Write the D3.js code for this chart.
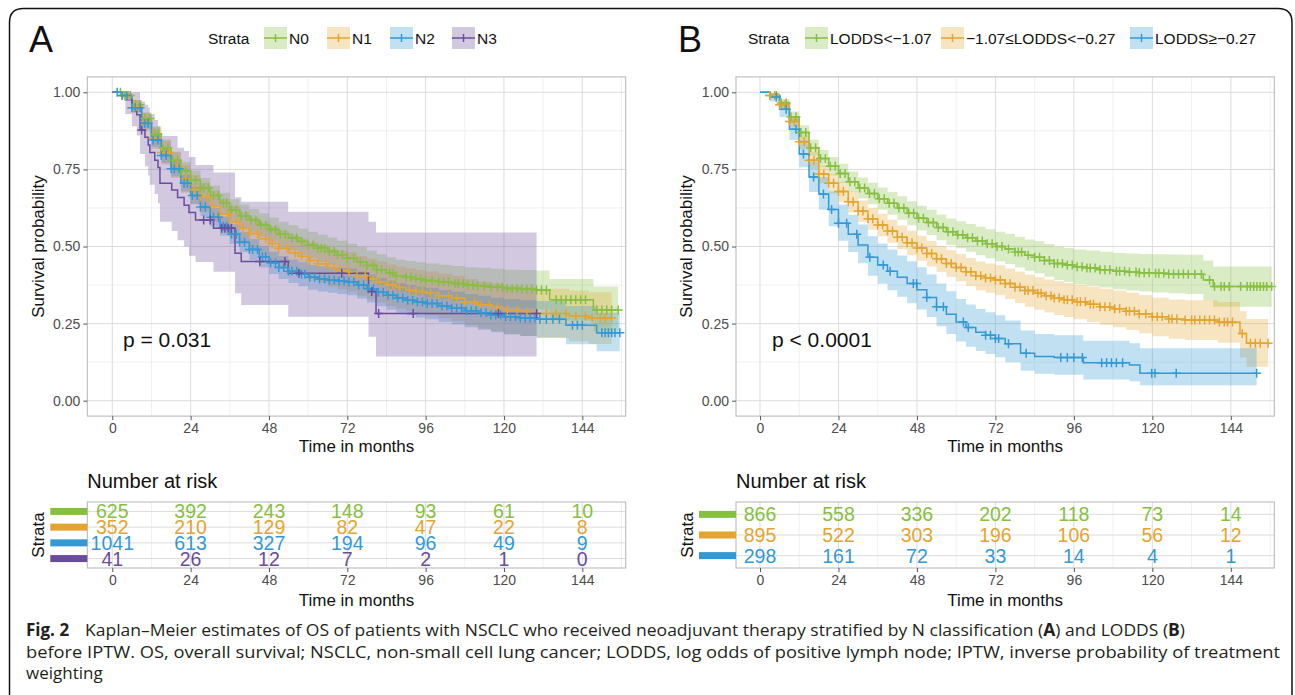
<!DOCTYPE html>
<html><head><meta charset="utf-8">
<script src="https://cdn.jsdelivr.net/npm/d3@7"></script>
<style>body{margin:0;background:#fff}svg text{font-family:"Liberation Sans",Arial,sans-serif}</style>
</head><body>
<svg id="c" width="1295" height="695"></svg>
<script>
// ---------------- DATA ----------------
const xTickVals = [0, 24, 48, 72, 96, 120, 144];
const yTickVals = [0, 0.25, 0.5, 0.75, 1];
const riskTimes = [0, 24, 48, 72, 96, 120, 144];

// Panel A: N classification
const aNames = ["N0", "N1", "N2", "N3"];
const aColors = ["#86BF41", "#E3A530", "#3399D4", "#6A4C9C"];
const aPval = "p = 0.031";

const n0Time = [0,3,6,9,12,15,18,21,24,27,30,33,36,39,42,45,48,51,54,57,60,63,66,69,72,75,78,81,84,87,90,93,96,100,104,108,112,116,120,125,130,134,147.4,155];
const n0Surv = [1,0.99,0.96,0.915,0.865,0.82,0.78,0.745,0.715,0.69,0.665,0.64,0.618,0.6,0.585,0.57,0.555,0.54,0.528,0.516,0.505,0.494,0.484,0.473,0.462,0.45,0.438,0.425,0.414,0.405,0.4,0.395,0.39,0.385,0.38,0.375,0.372,0.368,0.364,0.362,0.359,0.327,0.294,0.294];
const n0Lo = [1,0.982,0.945,0.895,0.84,0.793,0.752,0.715,0.684,0.658,0.632,0.606,0.583,0.564,0.548,0.532,0.516,0.5,0.487,0.474,0.462,0.45,0.439,0.427,0.415,0.402,0.389,0.375,0.363,0.353,0.347,0.341,0.335,0.329,0.323,0.317,0.313,0.308,0.303,0.3,0.296,0.26,0.225,0.225];
const n0Hi = [1,0.998,0.975,0.935,0.89,0.847,0.808,0.775,0.746,0.722,0.698,0.674,0.653,0.636,0.622,0.608,0.594,0.58,0.569,0.558,0.548,0.538,0.529,0.519,0.509,0.498,0.487,0.475,0.465,0.457,0.453,0.449,0.445,0.441,0.437,0.433,0.431,0.428,0.425,0.424,0.422,0.395,0.37,0.37];
const n0Cens = [2.5,4,5.5,7,8.5,10,11.5,13,14,15.5,17,18.5,20,21,22.5,24,25.5,27,28,29.5,31,32.5,34,35,36.5,38,39.5,41,42.5,44,45.5,47,48.5,50,51.5,53,55,56.5,58,60,61.5,63,64,65,66.5,68,69,70.5,72,74,76,78,80,81,82.5,85,86,87,90,91.5,93,94.5,96,98,100,101.5,103,105,106,107.5,109,110.5,112,114,116,118,119.5,121,122.5,124,125.5,127,128.5,130,131.5,133,136,137.5,139,140.5,142,143.5,145,148.5,150,151.5,153,155];

const n1Time = [0,3,6,9,12,15,18,21,24,27,30,33,36,39,42,45,48,51,54,57,60,63,66,69,72,75,78,81,84,87,90,93,96,100,104,108,112,116,120,125,130,140,146,153];
const n1Surv = [1,0.99,0.955,0.905,0.852,0.805,0.765,0.72,0.685,0.66,0.632,0.605,0.58,0.56,0.542,0.525,0.51,0.494,0.48,0.468,0.455,0.444,0.432,0.424,0.418,0.405,0.395,0.385,0.375,0.367,0.36,0.354,0.348,0.34,0.332,0.32,0.31,0.302,0.294,0.289,0.283,0.275,0.268,0.268];
const n1Lo = [1,0.98,0.933,0.875,0.816,0.765,0.722,0.674,0.637,0.611,0.582,0.554,0.528,0.507,0.488,0.47,0.454,0.437,0.422,0.409,0.395,0.383,0.37,0.361,0.354,0.34,0.329,0.318,0.307,0.298,0.29,0.283,0.276,0.267,0.258,0.245,0.234,0.225,0.216,0.21,0.203,0.193,0.184,0.184];
const n1Hi = [1,0.998,0.975,0.933,0.886,0.843,0.806,0.764,0.731,0.707,0.681,0.655,0.631,0.612,0.595,0.579,0.565,0.55,0.537,0.526,0.514,0.504,0.493,0.486,0.481,0.469,0.46,0.451,0.442,0.435,0.429,0.424,0.419,0.412,0.405,0.395,0.386,0.379,0.372,0.368,0.363,0.357,0.352,0.352];
const n1Cens = [3,5,7.5,10,12.5,15,17.5,20,22.5,25,27,29,31,33,35.5,38,40,42,44.5,47,49,51,53.5,56,58,60.5,63,65.5,68,70,72.5,75,77.5,80,82,84.5,86,88,91,93,95,97.5,100,103,105.5,108,111,113,115.5,118,121,124,127,130,133,136,139,142,145,147,149.5,151,153];

const n2Time = [0,3,6,9,12,15,18,21,24,27,30,33,36,39,42,45,48,51,54,57,60,63,66,69,72,75,78,81,84,87,90,93,96,100,104,108,112,116,120,125,130,139,148.4,155.5];
const n2Surv = [1,0.99,0.95,0.9,0.845,0.795,0.752,0.705,0.665,0.628,0.595,0.566,0.54,0.514,0.49,0.467,0.447,0.432,0.42,0.41,0.4,0.395,0.391,0.388,0.385,0.375,0.363,0.352,0.342,0.333,0.326,0.32,0.315,0.307,0.3,0.292,0.285,0.278,0.272,0.268,0.264,0.245,0.22,0.22];
const n2Lo = [1,0.984,0.936,0.882,0.823,0.771,0.727,0.678,0.637,0.599,0.565,0.535,0.508,0.481,0.456,0.432,0.411,0.395,0.382,0.371,0.36,0.354,0.35,0.346,0.342,0.331,0.318,0.306,0.295,0.285,0.277,0.27,0.264,0.255,0.247,0.238,0.23,0.222,0.215,0.21,0.205,0.183,0.16,0.16];
const n2Hi = [1,0.996,0.963,0.918,0.867,0.819,0.777,0.732,0.693,0.657,0.625,0.597,0.572,0.547,0.524,0.502,0.483,0.469,0.458,0.449,0.44,0.436,0.432,0.43,0.428,0.419,0.408,0.398,0.389,0.381,0.375,0.37,0.366,0.359,0.353,0.346,0.34,0.334,0.329,0.326,0.323,0.307,0.285,0.285];
const n2Cens = [1.5,3,4.5,6,7,8.5,10,11,12.5,14,15,16.5,18,19,20.5,22,23,24.5,26,27,28.5,30,31,32.5,34,35,36.5,38,39,40.5,42,43,44.5,46,47,48.5,50,51,52.5,54,55,56.5,58,59,60.5,62,63.5,65,66.5,68,69.5,71,72.5,74,75.5,77,78.5,80,81.5,83,84.5,86,87.5,89,90.5,92,93.5,95,96.5,98,99.5,101,102.5,104,105.5,107,108.5,110,111.5,113,114.5,116,117.5,119,120.5,122,123.5,125,126.5,128,129.5,131,133,135,137,141,142.5,144,150,151,152,153,154,155.5];

const n3Time = [0,4,6,7.5,8.5,10,11,11.5,13,14,14.6,18.2,20,22,23.5,25.5,31,37.6,39.5,53.9,78.5,80.8,130];
const n3Surv = [1,0.976,0.951,0.927,0.878,0.854,0.829,0.805,0.78,0.756,0.705,0.683,0.659,0.634,0.61,0.586,0.559,0.478,0.451,0.413,0.354,0.283,0.283];
const n3Lo = [1,0.93,0.89,0.86,0.8,0.76,0.73,0.7,0.67,0.64,0.58,0.55,0.52,0.5,0.47,0.45,0.418,0.348,0.31,0.272,0.207,0.143,0.143];
const n3Hi = [1,1,1,1,0.97,0.96,0.95,0.93,0.91,0.89,0.858,0.858,0.82,0.81,0.79,0.764,0.74,0.66,0.645,0.613,0.58,0.545,0.545];
const n3Cens = [9,28,30,33.5,34.5,35.5,36.5,45.2,52.9,57.2,70.3,79.5,81.6,92.2,118.3,130];

const aRisk0 = [625, 392, 243, 148, 93, 61, 10];
const aRisk1 = [352, 210, 129, 82, 47, 22, 8];
const aRisk2 = [1041, 613, 327, 194, 96, 49, 9];
const aRisk3 = [41, 26, 12, 7, 2, 1, 0];

// Panel B: LODDS
const bNames = ["LODDS<\u22121.07", "\u22121.07\u2264LODDS<\u22120.27", "LODDS\u2265\u22120.27"];
const bColors = ["#86BF41", "#E3A530", "#3399D4"];
const bPval = "p < 0.0001";

const l1Time = [0,3,6,9,12,15,18,21,24,27,30,33,36,39,42,45,48,51,54,57,60,63,66,69,72,75,78,81,84,87,90,93,96,100,104,108,112,116,120,125,130,135.6,138.6,156.5];
const l1Surv = [1,0.99,0.965,0.92,0.87,0.82,0.785,0.76,0.737,0.71,0.69,0.672,0.655,0.64,0.625,0.608,0.592,0.578,0.562,0.548,0.538,0.528,0.518,0.509,0.5,0.492,0.482,0.472,0.465,0.455,0.445,0.44,0.434,0.43,0.425,0.42,0.417,0.415,0.413,0.411,0.41,0.391,0.37,0.37];
const l1Lo = [1,0.983,0.952,0.902,0.847,0.794,0.757,0.73,0.706,0.677,0.656,0.637,0.619,0.603,0.587,0.569,0.552,0.537,0.52,0.505,0.494,0.483,0.472,0.462,0.452,0.443,0.432,0.421,0.413,0.402,0.391,0.385,0.378,0.373,0.367,0.361,0.357,0.354,0.351,0.348,0.346,0.325,0.305,0.305];
const l1Hi = [1,0.997,0.978,0.938,0.893,0.846,0.813,0.79,0.768,0.743,0.724,0.707,0.691,0.677,0.663,0.647,0.632,0.619,0.604,0.591,0.582,0.573,0.564,0.556,0.548,0.541,0.532,0.523,0.517,0.508,0.499,0.495,0.49,0.487,0.483,0.479,0.477,0.476,0.475,0.474,0.473,0.455,0.435,0.435];
const l1Cens = [3,5,6.5,8,9.5,11,12.5,14,15.5,17,18.5,20,21.5,23,24.5,26,27.5,29,30.5,32,33.5,35,36.5,38,39.5,41,42.5,44,45.5,47,48.5,50,51.5,53,54.5,56,57.5,59,60.5,62,63.5,65,66.5,68,69.5,71,72.5,74,76,78,79,80,82,84,85.5,87,88.5,90,91,92.5,94,95.5,97,98.5,100,101,102.5,104,105.5,107,109,110,111.5,113,115,116,117.5,119,121,122,123.5,125,126.5,128,129.5,131,133,135,137.5,139,141,142,143.5,147,149,150,151,152,153,154,155,156.5];

const l2Time = [0,3,6,9,12,15,18,21,24,27,30,33,36,39,42,45,48,51,54,57,60,63,66,69,72,75,78,81,84,87,90,93,96,100,104,108,112,116,120,125,130,140,146.8,148.8,155.4];
const l2Surv = [1,0.99,0.96,0.905,0.84,0.78,0.735,0.705,0.678,0.645,0.615,0.59,0.57,0.55,0.53,0.512,0.495,0.477,0.46,0.445,0.432,0.418,0.405,0.398,0.391,0.38,0.368,0.357,0.348,0.34,0.333,0.327,0.321,0.313,0.305,0.298,0.29,0.281,0.272,0.265,0.262,0.255,0.218,0.186,0.186];
const l2Lo = [1,0.983,0.946,0.885,0.815,0.752,0.705,0.673,0.645,0.611,0.58,0.554,0.533,0.512,0.491,0.472,0.454,0.435,0.417,0.401,0.387,0.372,0.358,0.35,0.342,0.33,0.317,0.305,0.295,0.286,0.278,0.271,0.264,0.255,0.246,0.238,0.229,0.219,0.209,0.201,0.197,0.188,0.14,0.11,0.11];
const l2Hi = [1,0.997,0.973,0.923,0.863,0.806,0.763,0.735,0.709,0.678,0.649,0.625,0.606,0.587,0.568,0.551,0.535,0.518,0.502,0.488,0.476,0.463,0.451,0.445,0.439,0.429,0.418,0.408,0.4,0.393,0.387,0.382,0.377,0.37,0.363,0.357,0.35,0.342,0.334,0.328,0.326,0.32,0.29,0.265,0.265];
const l2Cens = [3,4.5,6,7.5,9,10.5,12,13.5,15,16.5,18,19.5,21,22.5,24,25.5,27,28.5,30,31.5,33,34.5,36,37.5,39,40.5,42,43.5,45,46.5,48,49.5,51,52.5,54,55.5,57,58.5,60,61.5,63,64.5,66,67.5,69,70.5,72,73.5,75,76.5,78,79.5,81,82,83.5,85,86,87.5,89,90,91.5,93,94,95.5,97,98,99.5,101,102,104,105.5,107,108.5,110,112,113,114.5,116,118,120,121.5,123,125,126,127.5,130,132,133,134.5,136,137.5,139,140.5,142,143,144.5,147.5,150,151.5,153,155.4];

const l3Time = [0,3,6,9,12,15,18,21,24,27,30,33,36,39,42,45,48,51,54,57,60,63,66,69,72,75,79.7,84,90,98.9,113,116.2,151.9];
const l3Surv = [1,0.985,0.945,0.88,0.8,0.725,0.67,0.62,0.575,0.54,0.505,0.465,0.44,0.42,0.4,0.38,0.36,0.335,0.305,0.28,0.255,0.237,0.222,0.212,0.202,0.185,0.154,0.143,0.14,0.123,0.116,0.089,0.089];
const l3Lo = [1,0.97,0.92,0.845,0.757,0.677,0.619,0.566,0.519,0.482,0.446,0.405,0.379,0.358,0.337,0.316,0.296,0.271,0.241,0.216,0.192,0.175,0.161,0.151,0.141,0.125,0.097,0.087,0.084,0.069,0.063,0.05,0.05];
const l3Hi = [1,0.998,0.97,0.915,0.846,0.776,0.725,0.678,0.636,0.603,0.571,0.533,0.51,0.49,0.471,0.452,0.433,0.409,0.38,0.355,0.33,0.312,0.297,0.287,0.277,0.26,0.228,0.216,0.212,0.194,0.186,0.17,0.17];
const l3Cens = [5,8,11,13.3,16.4,19.4,21.9,24,26.5,29.6,33.6,37.7,39.8,46.9,47.9,51,54,56.1,62.2,63.7,69,70.5,72,73,76,81.4,92,94,96,98.6,104.5,106,107.5,109,110.9,119.8,120.8,127.3,151.9];

const bRisk0 = [866, 558, 336, 202, 118, 73, 14];
const bRisk1 = [895, 522, 303, 196, 106, 56, 12];
const bRisk2 = [298, 161, 72, 33, 14, 4, 1];

// ---------------- DRAW ----------------
const svg = d3.select("#c");
svg.append("rect").attr("width", 1295).attr("height", 695).attr("fill", "#fff");

// frame
const fr = 14, fl = 9.5, ft = 8.5, frt = 1292, fb = 700;
svg.append("path")
  .attr("d", `M${fl},${fb}V${ft+fr}Q${fl},${ft} ${fl+fr},${ft}H${frt-fr}Q${frt},${ft} ${frt},${ft+fr}V${fb}`)
  .attr("fill", "none").attr("stroke", "#111").attr("stroke-width", 1.5);

function stepVal(times, surv, t) {
  const i = Math.max(0, d3.bisectRight(times, t) - 1);
  return surv[i];
}

function drawPanel(o) {
  const g = svg.append("g");
  const top = 76.9, bot = 416.1;
  const x = d3.scaleLinear().domain(o.xdom).range([o.left, o.right]);
  const y = d3.scaleLinear().domain([-0.05, 1.05]).range([bot, top]);

  // letter
  g.append("text").attr("x", o.letterX).attr("y", 52).attr("font-size", 36).attr("fill", "#111").text(o.letter);

  // legend
  g.append("text").attr("x", o.legStrataX).attr("y", 43.5).attr("font-size", 15.5).attr("fill", "#111").text("Strata");
  o.series.forEach((s, i) => {
    const kx = o.legKeyX[i];
    g.append("rect").attr("x", kx).attr("y", 27).attr("width", 23).attr("height", 22)
      .attr("fill", s.color).attr("fill-opacity", 0.3);
    g.append("line").attr("x1", kx).attr("x2", kx + 23).attr("y1", 38).attr("y2", 38)
      .attr("stroke", s.color).attr("stroke-width", 1.5);
    g.append("line").attr("x1", kx + 11.5).attr("x2", kx + 11.5).attr("y1", 34).attr("y2", 42)
      .attr("stroke", s.color).attr("stroke-width", 1.5);
    g.append("text").attr("x", kx + 25).attr("y", 43.5).attr("font-size", 15.5).attr("fill", "#111").text(s.name);
  });

  // grid
  const minorX = [12, 36, 60, 84, 108, 132, 156].filter(v => v > o.xdom[0] && v < o.xdom[1]);
  const minorY = [0.125, 0.375, 0.625, 0.875];
  g.selectAll(".mx").data(minorX).join("line").attr("x1", d => x(d)).attr("x2", d => x(d))
    .attr("y1", top).attr("y2", bot).attr("stroke", "#ececec").attr("stroke-width", 0.8);
  g.selectAll(".my").data(minorY).join("line").attr("y1", d => y(d)).attr("y2", d => y(d))
    .attr("x1", o.left).attr("x2", o.right).attr("stroke", "#ececec").attr("stroke-width", 0.8);
  g.selectAll(".gx").data(xTickVals).join("line").attr("x1", d => x(d)).attr("x2", d => x(d))
    .attr("y1", top).attr("y2", bot).attr("stroke", "#dcdcdc").attr("stroke-width", 1);
  g.selectAll(".gy").data(yTickVals).join("line").attr("y1", d => y(d)).attr("y2", d => y(d))
    .attr("x1", o.left).attr("x2", o.right).attr("stroke", "#dcdcdc").attr("stroke-width", 1);

  // ribbons
  const area = d3.area().x(d => x(d[0])).y0(d => y(d[1])).y1(d => y(d[2])).curve(d3.curveStepAfter);
  o.series.forEach(s => {
    g.append("path").datum(d3.zip(s.t, s.lo, s.hi)).attr("d", area)
      .attr("fill", s.color).attr("fill-opacity", 0.3).attr("stroke", "none");
  });
  // lines
  const line = d3.line().x(d => x(d[0])).y(d => y(d[1])).curve(d3.curveStepAfter);
  o.series.forEach(s => {
    g.append("path").datum(d3.zip(s.t, s.s)).attr("d", line)
      .attr("fill", "none").attr("stroke", s.color).attr("stroke-width", 1.5);
  });
  // censor marks
  o.series.forEach(s => {
    g.selectAll(null).data(s.c).join("path")
      .attr("transform", d => `translate(${x(d)},${y(stepVal(s.t, s.s, d))})`)
      .attr("d", "M-4.5,0H4.5M0,-4.5V4.5").attr("stroke", s.color).attr("stroke-width", 1.5).attr("fill", "none");
  });

  // p value
  g.append("text").attr("x", o.pX).attr("y", 347).attr("font-size", 21).attr("fill", "#111").text(o.pval);

  // border
  g.append("rect").attr("x", o.left).attr("y", top).attr("width", o.right - o.left).attr("height", bot - top)
    .attr("fill", "none").attr("stroke", "#b5b5b5").attr("stroke-width", 1);

  // axes
  const ax = g.append("g").attr("transform", `translate(${o.left},0)`)
    .call(d3.axisLeft(y).tickValues(yTickVals).tickFormat(d3.format(".2f")).tickSize(4).tickPadding(3));
  const bx = g.append("g").attr("transform", `translate(0,${bot})`)
    .call(d3.axisBottom(x).tickValues(xTickVals).tickSize(4).tickPadding(3));
  [ax, bx].forEach(a => {
    a.select(".domain").remove();
    a.selectAll("line").attr("stroke", "#555");
    a.selectAll("text").attr("font-size", 14).attr("fill", "#4d4d4d").attr("font-family", '"Liberation Sans",Arial,sans-serif');
  });
  g.append("text").attr("x", (o.left + o.right) / 2).attr("y", 452).attr("text-anchor", "middle")
    .attr("font-size", 17).attr("fill", "#111").text("Time in months");
  g.append("text").attr("transform", `translate(${o.ylabX},${(top + bot) / 2}) rotate(-90)`)
    .attr("text-anchor", "middle").attr("dy", "0.35em").attr("font-size", 17).attr("fill", "#111").text("Survival probability");

  // ------- risk table -------
  const tTop = 502, tBot = 568;
  g.append("text").attr("x", o.left).attr("y", 488).attr("font-size", 20).attr("fill", "#111").text("Number at risk");
  const ry = d3.scalePoint().domain(o.series.map(s => s.name)).range([tTop, tBot]).padding(0.6);
  g.selectAll(".tmx").data([12, 36, 60, 84, 108, 132, 156].filter(v => v < o.xdom[1])).join("line")
    .attr("x1", d => x(d)).attr("x2", d => x(d)).attr("y1", tTop).attr("y2", tBot).attr("stroke", "#ececec").attr("stroke-width", 0.8);
  g.selectAll(".tgx").data(xTickVals).join("line")
    .attr("x1", d => x(d)).attr("x2", d => x(d)).attr("y1", tTop).attr("y2", tBot).attr("stroke", "#dcdcdc");
  g.selectAll(".tgy").data(o.series).join("line")
    .attr("x1", o.left).attr("x2", o.right).attr("y1", d => ry(d.name)).attr("y2", d => ry(d.name)).attr("stroke", "#dcdcdc");
  g.append("rect").attr("x", o.left).attr("y", tTop).attr("width", o.right - o.left).attr("height", tBot - tTop)
    .attr("fill", "none").attr("stroke", "#b5b5b5");
  o.series.forEach(s => {
    const yy = ry(s.name);
    g.append("rect").attr("x", o.left - 37).attr("y", yy - 3.5).attr("width", 37).attr("height", 7).attr("fill", s.color);
    g.selectAll(null).data(d3.zip(riskTimes, s.risk)).join("text")
      .attr("x", d => x(d[0])).attr("y", yy).attr("dy", "0.36em").attr("text-anchor", "middle")
      .attr("font-size", 19.5).attr("fill", s.color).text(d => d[1]);
  });
  const tx = g.append("g").attr("transform", `translate(0,${tBot})`)
    .call(d3.axisBottom(x).tickValues(xTickVals).tickSize(4).tickPadding(3));
  tx.select(".domain").remove();
  tx.selectAll("line").attr("stroke", "#555");
  tx.selectAll("text").attr("font-size", 14).attr("fill", "#4d4d4d").attr("font-family", '"Liberation Sans",Arial,sans-serif');
  g.append("text").attr("x", (o.left + o.right) / 2).attr("y", 606).attr("text-anchor", "middle")
    .attr("font-size", 17).attr("fill", "#111").text("Time in months");
  g.append("text").attr("transform", `translate(${o.left - 49},${(tTop + tBot) / 2}) rotate(-90)`)
    .attr("text-anchor", "middle").attr("dy", "0.35em").attr("font-size", 17).attr("fill", "#111").text("Strata");
}

const aSeries = [
  {name: aNames[0], color: aColors[0], t: n0Time, s: n0Surv, lo: n0Lo, hi: n0Hi, c: n0Cens, risk: aRisk0},
  {name: aNames[1], color: aColors[1], t: n1Time, s: n1Surv, lo: n1Lo, hi: n1Hi, c: n1Cens, risk: aRisk1},
  {name: aNames[2], color: aColors[2], t: n2Time, s: n2Surv, lo: n2Lo, hi: n2Hi, c: n2Cens, risk: aRisk2},
  {name: aNames[3], color: aColors[3], t: n3Time, s: n3Surv, lo: n3Lo, hi: n3Hi, c: n3Cens, risk: aRisk3}
];
const bSeries = [
  {name: bNames[0], color: bColors[0], t: l1Time, s: l1Surv, lo: l1Lo, hi: l1Hi, c: l1Cens, risk: bRisk0},
  {name: bNames[1], color: bColors[1], t: l2Time, s: l2Surv, lo: l2Lo, hi: l2Hi, c: l2Cens, risk: bRisk1},
  {name: bNames[2], color: bColors[2], t: l3Time, s: l3Surv, lo: l3Lo, hi: l3Hi, c: l3Cens, risk: bRisk2}
];

drawPanel({letter: "A", letterX: 29, legStrataX: 208, legKeyX: [264, 327, 390, 452],
  xdom: [-7.66, 157.3], left: 87.3, right: 625.7, ylabX: 38, pX: 123, pval: aPval, series: aSeries});
drawPanel({letter: "B", letterX: 678, legStrataX: 748, legKeyX: [805, 941, 1130],
  xdom: [-7.34, 157.3], left: 736, right: 1274.3, ylabX: 686, pX: 772, pval: bPval, series: bSeries});

// caption
const cap = svg.append("g").attr("fill", "#231f20").style("font-family", '"Open Sans",sans-serif');
cap.append("text").attr("x", 26).attr("y", 636).attr("font-size", 17).attr("font-weight", "bold")
  .style("font-family", '"Open Sans",sans-serif').text("Fig. 2");
const l1 = cap.append("text").attr("x", 85).attr("y", 636).attr("font-size", 17)
  .style("font-family", '"Open Sans",sans-serif')
  .attr("textLength", 1100).attr("lengthAdjust", "spacingAndGlyphs");
l1.append("tspan").text("Kaplan\u2013Meier estimates of OS of patients with NSCLC who received neoadjuvant therapy stratified by N classification (");
l1.append("tspan").attr("font-weight", "bold").text("A");
l1.append("tspan").text(") and LODDS (");
l1.append("tspan").attr("font-weight", "bold").text("B");
l1.append("tspan").text(")");
cap.append("text").attr("x", 26).attr("y", 657.5).attr("font-size", 17)
  .style("font-family", '"Open Sans",sans-serif')
  .attr("textLength", 1254).attr("lengthAdjust", "spacingAndGlyphs")
  .text("before IPTW. OS, overall survival; NSCLC, non-small cell lung cancer; LODDS, log odds of positive lymph node; IPTW, inverse probability of treatment");
cap.append("text").attr("x", 26).attr("y", 679).attr("font-size", 17)
  .style("font-family", '"Open Sans",sans-serif').text("weighting");
</script>
</body></html>
